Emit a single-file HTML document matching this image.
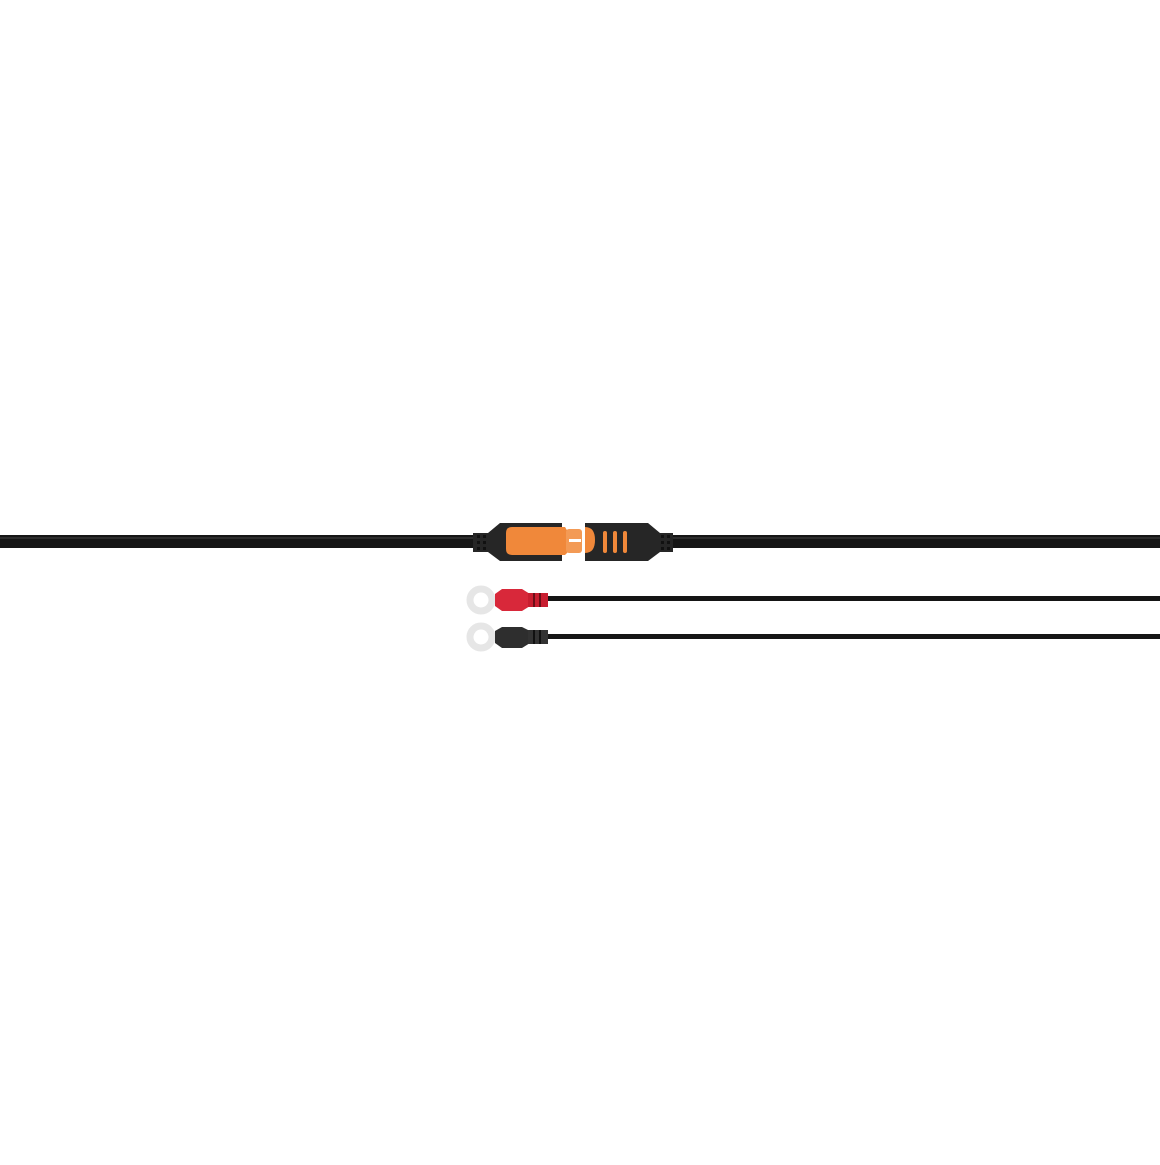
<!DOCTYPE html>
<html><head><style>body{margin:0;background:#fff;width:1160px;height:1160px;overflow:hidden}</style></head>
<body>
<svg width="1160" height="1160" viewBox="0 0 1160 1160" xmlns="http://www.w3.org/2000/svg">
<!-- main cables -->
<rect x="0" y="535" width="480" height="13" fill="#161616"/>
<rect x="668" y="535" width="492" height="13" fill="#161616"/>
<line x1="0" y1="538" x2="480" y2="538" stroke="#444" stroke-width="1"/>
<line x1="668" y1="538" x2="1160" y2="538" stroke="#444" stroke-width="1"/>
<!-- left connector -->
<path d="M473 533 L488 533 L500 523 L562 523 L562 561 L500 561 L488 552 L473 552 Z" fill="#262626"/>
<g fill="#111"><rect x="477" y="535" width="3" height="3"/><rect x="483" y="535" width="3" height="3"/><rect x="477" y="541" width="3" height="3"/><rect x="483" y="541" width="3" height="3"/><rect x="477" y="547" width="3" height="3"/><rect x="483" y="547" width="3" height="3"/></g>
<path d="M512 527 L565 527 L568 532 L568 552 L565 555 L512 555 Q506 555 506 549 L506 533 Q506 527 512 527 Z" fill="#f0883a"/>
<rect x="566" y="529" width="16" height="24" rx="3" fill="#f39a55"/>
<rect x="569" y="539" width="12" height="3" fill="#fff"/>
<!-- right connector -->
<path d="M585 523 L648 523 L660 533 L673 533 L673 552 L660 552 L648 561 L585 561 Z" fill="#262626"/>
<path d="M585 527 Q595 527 595 540 Q595 553 585 553 Z" fill="#f0883a"/>
<g fill="#f0883a"><rect x="603" y="531" width="4" height="22" rx="2"/><rect x="613" y="531" width="4" height="22" rx="2"/><rect x="623" y="531" width="4" height="22" rx="2"/></g>
<g fill="#111"><rect x="661" y="535" width="3" height="3"/><rect x="667" y="535" width="3" height="3"/><rect x="661" y="541" width="3" height="3"/><rect x="667" y="541" width="3" height="3"/><rect x="661" y="547" width="3" height="3"/><rect x="667" y="547" width="3" height="3"/></g>
<!-- red terminal -->
<rect x="540" y="596" width="620" height="5" fill="#151515"/>
<circle cx="481" cy="600" r="11" fill="none" stroke="#e6e6e6" stroke-width="7"/>
<path d="M495 594 L502 589 L522 589 L530 594 L530 606 L522 611 L502 611 L495 606 Z" fill="#d8283a"/>
<rect x="528" y="593" width="20" height="14" fill="#c81e30"/>
<g fill="#6a0f18"><rect x="533" y="593" width="2" height="14"/><rect x="539" y="593" width="2" height="14"/></g>
<!-- black terminal -->
<rect x="540" y="634" width="620" height="5" fill="#151515"/>
<circle cx="481" cy="637" r="11" fill="none" stroke="#e6e6e6" stroke-width="7"/>
<path d="M495 631 L502 627 L522 627 L530 631 L530 643 L522 648 L502 648 L495 643 Z" fill="#2e2e2e"/>
<rect x="528" y="630" width="20" height="14" fill="#333"/>
<g fill="#111"><rect x="533" y="630" width="2" height="14"/><rect x="539" y="630" width="2" height="14"/></g>
</svg>
</body></html>
